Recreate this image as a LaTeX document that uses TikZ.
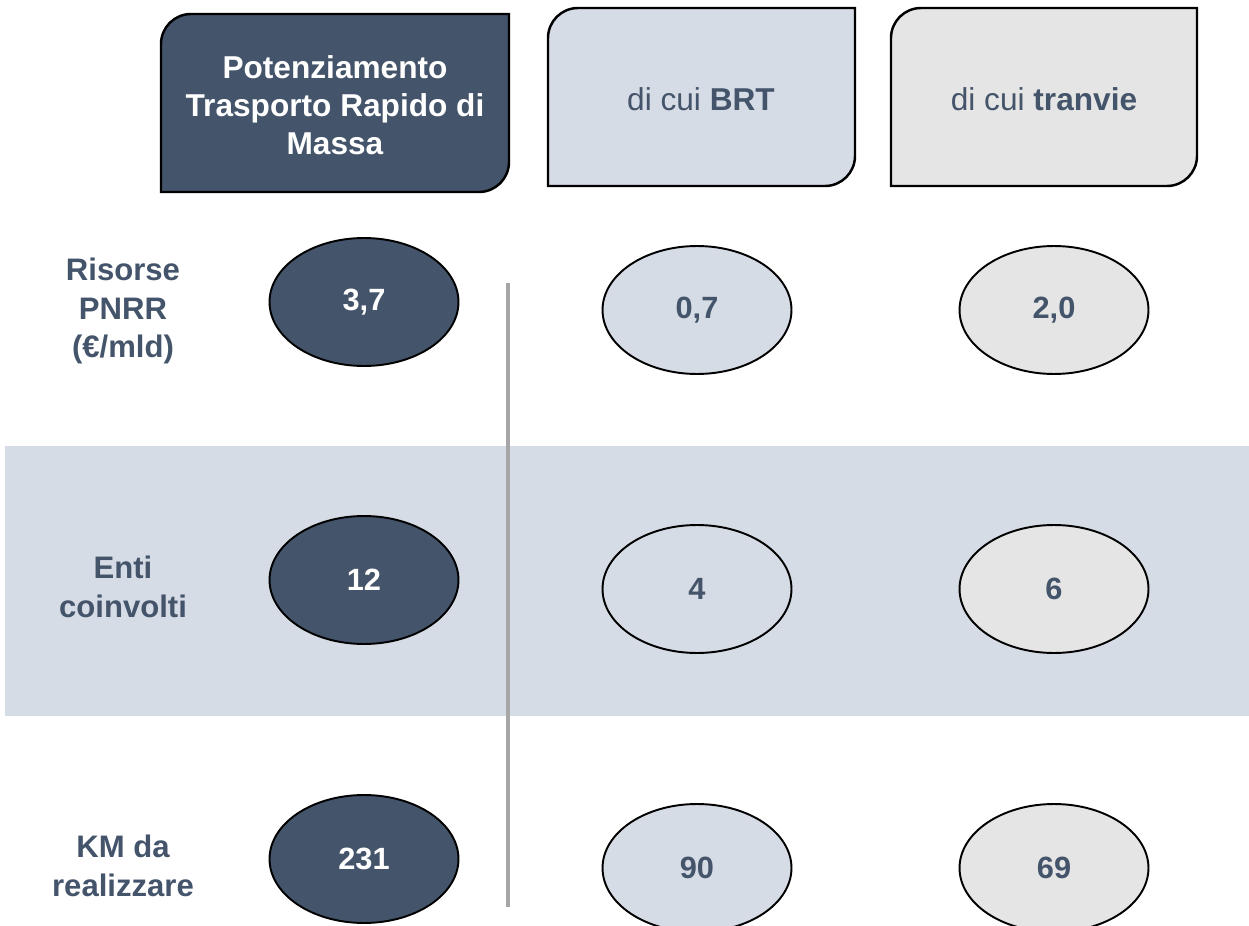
\documentclass[tikz,border=0pt]{standalone}
\usepackage{fontspec}
\setmainfont{Liberation Sans}
\usetikzlibrary{shapes.geometric}
\definecolor{dark}{HTML}{44546A}
\definecolor{lblue}{HTML}{D6DCE5}
\definecolor{lgray}{HTML}{E5E5E5}
\definecolor{vline}{HTML}{A6A6A6}
\tikzset{
  x=0.02cm, y=-0.02cm,
  hbox/.style={draw=black, line width=1.4pt},
  htext/.style={align=center, inner sep=0pt},
  rowlab/.style={align=center, inner sep=0pt, text=dark, font=\fontsize{17.7}{22}\selectfont\bfseries},
  val/.style={ellipse, draw=black, line width=1.1pt, inner sep=0pt, minimum width=3.78cm, minimum height=2.56cm, font=\fontsize{17.5}{20}\selectfont\bfseries},
  valA/.style={val, fill=dark, text=white},
  valB/.style={val, fill=lblue, text=dark},
  valC/.style={val, fill=lgray, text=dark},
}
\newcommand{\hdrshape}[6]{% L T R B r fill
  \path[hbox, fill=#6] (#1,#4) -- (#1,#2+#5)
    .. controls (#1,#2+0.448*#5) and (#1+0.448*#5,#2) .. (#1+#5,#2)
    -- (#3,#2) -- (#3,#4-#5)
    .. controls (#3,#4-0.448*#5) and (#3-0.448*#5,#4) .. (#3-#5,#4)
    -- cycle;}
\begin{document}
\begin{tikzpicture}
\useasboundingbox (0,0) rectangle (1249,926);
\clip (0,0) rectangle (1249,926);
% band
\fill[lblue] (5,446) rectangle (1249,716);
% vertical separator
\draw[vline, line width=2pt] (508,283) -- (508,907);
% header boxes
\hdrshape{161}{14}{509}{192}{30}{dark}
\hdrshape{548}{8}{855}{186}{30}{lblue}
\hdrshape{891}{8}{1197}{186}{30}{lgray}
\node[htext, text=white, font=\fontsize{18}{21.6}\selectfont\bfseries] (h1) at (335,105)
  {Potenziamento\\Trasporto Rapido di\\Massa};
\node[htext, text=dark, font=\fontsize{18}{21}\selectfont] (h2) at (701,99) {di cui \textbf{BRT}};
\node[htext, text=dark, font=\fontsize{18}{21}\selectfont] (h3) at (1044,99) {di cui \textbf{tranvie}};
% row labels
\node[rowlab] (r1) at (123,311) {Risorse\\PNRR\\(€/mld)};
\node[rowlab] (r2) at (123,587) {Enti\\coinvolti};
\node[rowlab] (r3) at (123,866) {KM da\\realizzare};
% values
\node[valA] (a1) at (364,302) {3,7};
\node[valA] (a2) at (364,580) {12};
\node[valA] (a3) at (364,859) {231};
\node[valB] (b1) at (697,310) {0,7};
\node[valB] (b2) at (697,589) {4};
\node[valB] (b3) at (697,868) {90};
\node[valC] (c1) at (1054,310) {2,0};
\node[valC] (c2) at (1054,589) {6};
\node[valC] (c3) at (1054,868) {69};
\end{tikzpicture}
\end{document}
